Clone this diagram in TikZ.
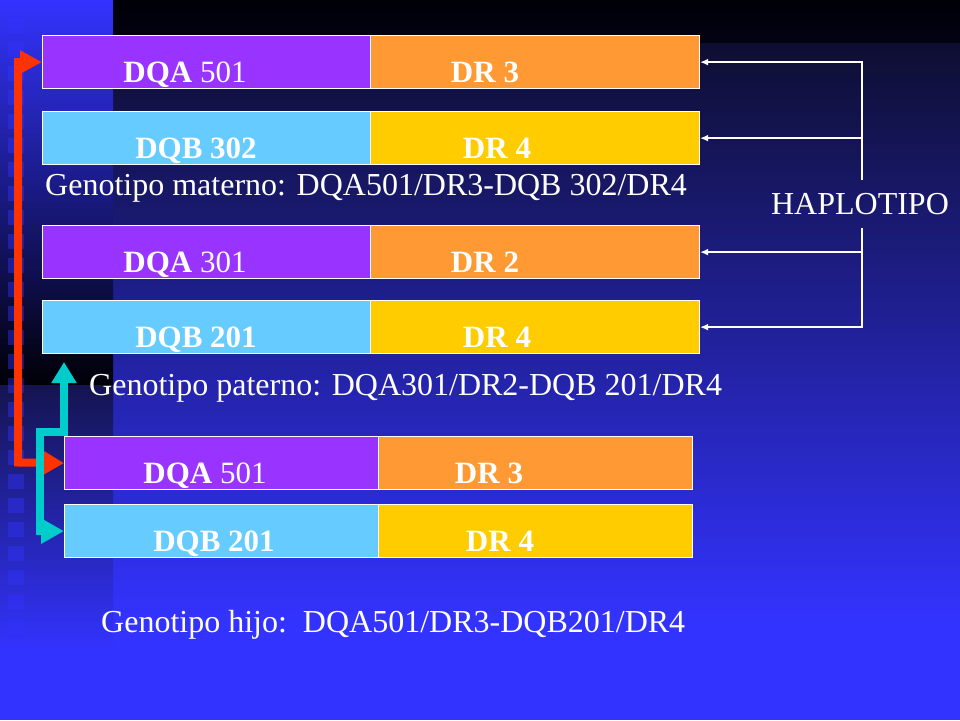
\documentclass[tikz,border=0pt]{standalone}
\usepackage{fontspec}
\setmainfont{Liberation Serif}
\usetikzlibrary{arrows.meta}
\definecolor{bgblue}{RGB}{51,51,255}
\definecolor{mtop}{RGB}{14,14,50}
\definecolor{band}{RGB}{2,2,20}
\definecolor{lmid}{RGB}{30,30,160}
\definecolor{lbot}{RGB}{0,0,6}
\definecolor{lup}{RGB}{20,20,80}
\definecolor{cpurple}{RGB}{153,51,255}
\definecolor{corange}{RGB}{255,153,51}
\definecolor{clblue}{RGB}{102,204,255}
\definecolor{cyellow}{RGB}{255,204,0}
\definecolor{cred}{RGB}{255,51,0}
\definecolor{ccyan}{RGB}{0,204,204}
\tikzset{
  gbox/.style={draw=white, line width=1.2pt, inner sep=0pt, anchor=north west, minimum height=53pt},
  lab/.style={text=white, font=\fontsize{31}{36}\selectfont, anchor=base, inner sep=0pt},
  gtext/.style={text=white, font=\fontsize{32}{38}\selectfont, anchor=base west, inner sep=0pt},
  hline/.style={draw=white, line width=1.3pt, -{Latex[length=8pt,width=7pt]}},
  redline/.style={draw=cred, line width=8pt, {Triangle[length=20pt,width=22pt]}-{Triangle[length=22pt,width=22pt]}},
  cyanline/.style={draw=ccyan, line width=8pt, {Triangle[length=23pt,width=24pt]}-{Triangle[length=21pt,width=24pt]}},
  sqbox/.style={fill=bgblue, fill opacity=0.42},
}
\begin{document}
\begin{tikzpicture}[x=1pt,y=-1pt]
\useasboundingbox (0,0) rectangle (960,720);
% background
\shade[top color=lbot, bottom color=band] (112.5,0) rectangle (960,43.5);
\shade[top color=mtop, bottom color=bgblue] (112.5,43) rectangle (960,620.5);
\fill[bgblue] (112.5,620) rectangle (960,720);
\shade[top color=bgblue, middle color=lmid, bottom color=lbot] (0,0) rectangle (113,385.5);
\shade[top color=lup, bottom color=bgblue] (0,385) rectangle (113,650.5);
\fill[bgblue] (0,650) rectangle (113,720);
\foreach \k in {0,...,28} \fill[sqbox] (8,{24*\k+18}) rectangle ++(16,15);

% maternal
\node[gbox, fill=cpurple, minimum width=328pt] (r1l) at (42,35) {};
\node[gbox, fill=corange, minimum width=329pt] (r1r) at (370,35) {};
\node[gbox, fill=clblue, minimum width=328pt] (r2l) at (42,111) {};
\node[gbox, fill=cyellow, minimum width=329pt] (r2r) at (370,111) {};
\node[lab] (t1l) at (185,82) {\textbf{DQA} 501};
\node[lab] (t1r) at (485,82) {\textbf{DR 3}};
\node[lab] (t2l) at (196,158) {\textbf{DQB 302}};
\node[lab] (t2r) at (497,158) {\textbf{DR 4}};
\node[gtext] (gm) at (45,195) {Genotipo materno: DQA501/DR3-DQB 302/DR4};

% paternal
\node[gbox, fill=cpurple, minimum width=328pt] (r3l) at (42,225) {};
\node[gbox, fill=corange, minimum width=329pt] (r3r) at (370,225) {};
\node[gbox, fill=clblue, minimum width=328pt] (r4l) at (42,300) {};
\node[gbox, fill=cyellow, minimum width=329pt] (r4r) at (370,300) {};
\node[lab] (t3l) at (185,272) {\textbf{DQA} 301};
\node[lab] (t3r) at (485,272) {\textbf{DR 2}};
\node[lab] (t4l) at (196,347) {\textbf{DQB 201}};
\node[lab] (t4r) at (497,347) {\textbf{DR 4}};
\node[gtext] (gp) at (89,395) {Genotipo paterno: DQA301/DR2-DQB 201/DR4};

% child
\node[gbox, fill=cpurple, minimum width=314pt] (r5l) at (64,436) {};
\node[gbox, fill=corange, minimum width=314pt] (r5r) at (378,436) {};
\node[gbox, fill=clblue, minimum width=314pt] (r6l) at (64,504) {};
\node[gbox, fill=cyellow, minimum width=314pt] (r6r) at (378,504) {};
\node[lab] (t5l) at (205,483) {\textbf{DQA} 501};
\node[lab] (t5r) at (489,483) {\textbf{DR 3}};
\node[lab] (t6l) at (214,551) {\textbf{DQB 201}};
\node[lab] (t6r) at (500,551) {\textbf{DR 4}};
\node[gtext] (gh) at (101,632) {Genotipo hijo:\ \ DQA501/DR3-DQB201/DR4};

% haplotipo
\node[text=white, font=\fontsize{32}{38}\selectfont, anchor=base, inner sep=0pt] (hap) at (860,214) {HAPLOTIPO};
\coordinate (h1) at (862,180);
\coordinate (h2) at (862,228);
\draw[hline] (h1) |- (r1r.east);
\draw[hline] (h1) |- (r2r.east);
\draw[hline] (h2) |- (r3r.east);
\draw[hline] (h2) |- (r4r.east);

% inheritance arrows
\coordinate (rc) at (18,462.5);
\draw[redline] (r5l.west) -- (rc) |- (r1l.west);
\coordinate (c1) at (40,432);
\coordinate (ct) at (64,362);
\draw[cyanline] (r6l.west) -| (c1) -| (ct);
\end{tikzpicture}
\end{document}
